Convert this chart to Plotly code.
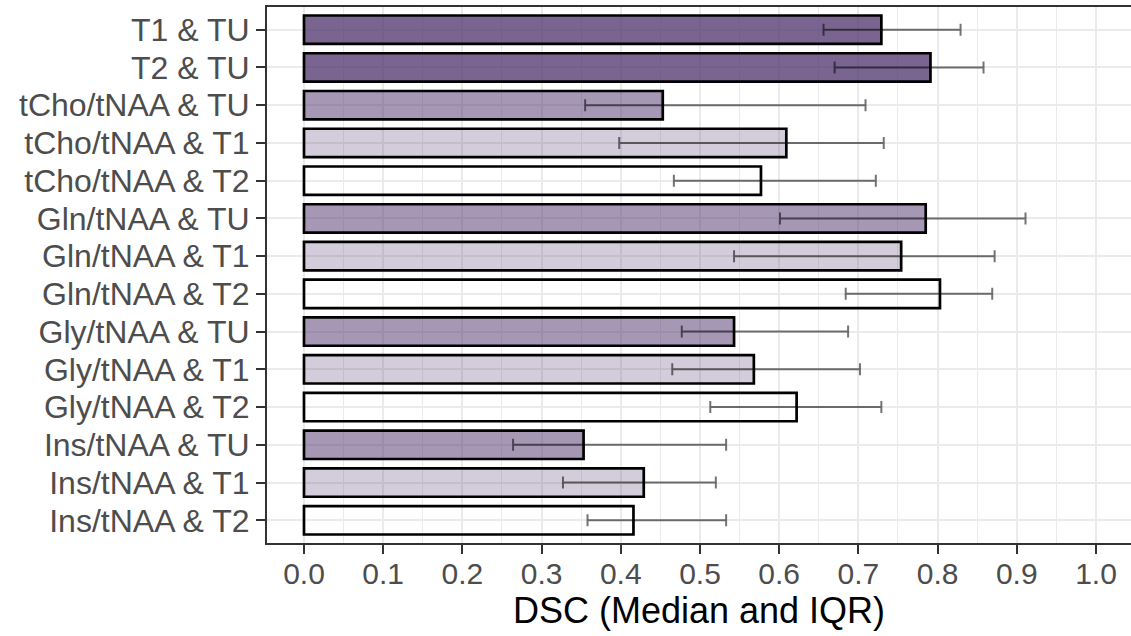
import plotly.graph_objects as go

categories = [
    "T1 & TU", "T2 & TU",
    "tCho/tNAA & TU", "tCho/tNAA & T1", "tCho/tNAA & T2",
    "Gln/tNAA & TU", "Gln/tNAA & T1", "Gln/tNAA & T2",
    "Gly/tNAA & TU", "Gly/tNAA & T1", "Gly/tNAA & T2",
    "Ins/tNAA & TU", "Ins/tNAA & T1", "Ins/tNAA & T2",
]
median = [0.729, 0.791, 0.453, 0.609, 0.577, 0.785, 0.754, 0.803,
          0.543, 0.568, 0.622, 0.353, 0.429, 0.416]
q1 = [0.656, 0.670, 0.355, 0.398, 0.467, 0.601, 0.543, 0.684,
      0.477, 0.465, 0.513, 0.264, 0.327, 0.358]
q3 = [0.829, 0.858, 0.709, 0.732, 0.722, 0.911, 0.872, 0.869,
      0.687, 0.702, 0.729, 0.533, 0.520, 0.533]
x_ticks = [0.0, 0.1, 0.2, 0.3, 0.4, 0.5, 0.6, 0.7, 0.8, 0.9, 1.0]

base = (78, 50, 108)
def fill_for(label):
    if label in ("T1 & TU", "T2 & TU"):
        a = 0.75
    elif label.endswith("& TU"):
        a = 0.5
    elif label.endswith("& T1"):
        a = 0.25
    else:
        a = 0.0
    return f"rgba({base[0]},{base[1]},{base[2]},{a})"

colors = [fill_for(c) for c in categories]
err_plus = [h - m for h, m in zip(q3, median)]
err_minus = [m - l for m, l in zip(median, q1)]

fig = go.Figure()
fig.add_trace(go.Bar(
    y=categories, x=median, orientation="h",
    marker=dict(color=colors, line=dict(color="black", width=2.7)),
    error_x=dict(type="data", array=err_plus, arrayminus=err_minus,
                 symmetric=False, color="rgba(0,0,0,0.55)",
                 thickness=2, width=6),
    showlegend=False,
))

font_family = "Liberation Sans, Arial, sans-serif"
fig.update_layout(
    width=1131, height=636,
    margin=dict(l=267, r=0, t=7, b=93),
    paper_bgcolor="white", plot_bgcolor="white",
    bargap=0.25,
    font=dict(family=font_family),
    xaxis=dict(
        range=[-0.0467, 1.0442],
        tickmode="array", tickvals=x_ticks,
        ticktext=[f"{v:.1f}" for v in x_ticks],
        showgrid=True, gridcolor="#ebebeb", gridwidth=2,
        minor=dict(dtick=0.05, tick0=0, showgrid=True,
                   gridcolor="#ebebeb", gridwidth=1),
        zeroline=False,
        showline=True, mirror=True, linecolor="#333333", linewidth=2,
        ticks="outside", ticklen=9, tickwidth=2, tickcolor="#333333",
        tickfont=dict(size=30, color="#4d4d4d", family=font_family),
        ticklabelstandoff=-6,
        title=dict(text="DSC (Median and IQR)",
                   font=dict(size=36, color="black", family=font_family),
                   standoff=0),
    ),
    yaxis=dict(
        categoryorder="array", categoryarray=categories[::-1],
        tickmode="array", tickvals=categories, ticktext=categories,
        range=[-0.6, 13.6],
        showgrid=True, gridcolor="#ebebeb", gridwidth=2,
        zeroline=False,
        showline=True, mirror=False, linecolor="#333333", linewidth=2,
        ticks="outside", ticklen=9, tickwidth=2, tickcolor="#333333",
        tickfont=dict(size=32, color="#4d4d4d", family=font_family),
        ticklabelstandoff=0,
    ),
)

fig.write_html("out.html")
